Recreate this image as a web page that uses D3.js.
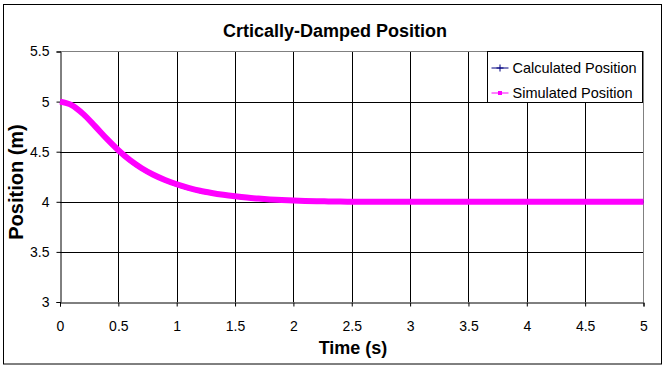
<!DOCTYPE html>
<html>
<head>
<meta charset="utf-8">
<script src="https://cdn.jsdelivr.net/npm/d3@7"></script>
<style>
  body { margin: 0; background: #fff; }
  text { font-family: "Liberation Sans", Arial, sans-serif; }
</style>
</head>
<body>
<div id="chart"></div>
<script>
// values
var times = [0, 0.1, 0.2, 0.3, 0.4, 0.5, 0.6, 0.7, 0.8, 0.9, 1.0,
  1.1, 1.2, 1.3, 1.4, 1.5, 1.6, 1.7, 1.8, 1.9, 2.0,
  2.1, 2.2, 2.3, 2.4, 2.5, 2.6, 2.7, 2.8, 2.9, 3.0,
  3.1, 3.2, 3.3, 3.4, 3.5, 3.6, 3.7, 3.8, 3.9, 4.0,
  4.1, 4.2, 4.3, 4.4, 4.5, 4.6, 4.7, 4.8, 4.9, 5.0]
var calculated = [5.0, 4.962, 4.87, 4.748, 4.622, 4.508, 4.405, 4.325, 4.26, 4.208, 4.165,
  4.13, 4.101, 4.079, 4.062, 4.047, 4.035, 4.026, 4.019, 4.013, 4.009,
  4.006, 4.004, 4.002, 4.001, 4.0, 4.0, 4.0, 4.0, 4.0, 4.0,
  4.0, 4.0, 4.0, 4.0, 4.0, 4.0, 4.0, 4.0, 4.0, 4.0,
  4.0, 4.0, 4.0, 4.0, 4.0, 4.0, 4.0, 4.0, 4.0, 4.0]
var simulated = [5.0, 4.965, 4.875, 4.755, 4.63, 4.515, 4.415, 4.335, 4.27, 4.218, 4.175,
  4.14, 4.11, 4.088, 4.07, 4.055, 4.042, 4.032, 4.024, 4.018, 4.013,
  4.009, 4.006, 4.004, 4.002, 4.001, 4.0, 4.0, 4.0, 4.0, 4.0,
  4.0, 4.0, 4.0, 4.0, 4.0, 4.0, 4.0, 4.0, 4.0, 4.0,
  4.0, 4.0, 4.0, 4.0, 4.0, 4.0, 4.0, 4.0, 4.0, 4.0]
var xTicks = [0, 0.5, 1, 1.5, 2, 2.5, 3, 3.5, 4, 4.5, 5]
var yTicks = [3, 3.5, 4, 4.5, 5, 5.5]
var seriesNames = ['Calculated Position', 'Simulated Position']

var W = 669, H = 369
var plot = {left: 60, right: 643.5, top: 51.5, bottom: 302}

var svg = d3.select('#chart').append('svg')
  .attr('width', W)
  .attr('height', H)

svg.append('rect')
  .attr('x', 3.5).attr('y', 4.5)
  .attr('width', 658).attr('height', 359.5)
  .attr('fill', '#fff').attr('stroke', '#000')

var x = d3.scaleLinear().domain([0, 5]).range([plot.left, plot.right])
var y = d3.scaleLinear().domain([3, 5.5]).range([plot.bottom, plot.top])

// grid
svg.append('g').selectAll('line')
  .data(xTicks.slice(1, -1))
  .enter().append('line')
    .attr('x1', d => Math.round(x(d)) + 0.5).attr('x2', d => Math.round(x(d)) + 0.5)
    .attr('y1', plot.top).attr('y2', plot.bottom)
    .attr('stroke', '#000')
svg.append('g').selectAll('line')
  .data(yTicks.slice(1, -1))
  .enter().append('line')
    .attr('x1', plot.left).attr('x2', plot.right)
    .attr('y1', d => Math.round(y(d)) + 0.5).attr('y2', d => Math.round(y(d)) + 0.5)
    .attr('stroke', '#000')

// gray frame top and right
svg.append('line')
  .attr('x1', plot.left).attr('x2', plot.right + 0.5)
  .attr('y1', plot.top).attr('y2', plot.top)
  .attr('stroke', '#808080')
svg.append('line')
  .attr('x1', plot.right).attr('x2', plot.right)
  .attr('y1', plot.top).attr('y2', plot.bottom)
  .attr('stroke', '#808080')

// axes
var xAxis = d3.axisBottom(x).tickValues(xTicks).tickSize(4).tickFormat(d3.format('')).tickPadding(15)
var yAxis = d3.axisLeft(y).tickValues(yTicks).tickSize(4).tickFormat(d3.format('')).tickPadding(7)

var gx = svg.append('g')
  .attr('transform', 'translate(0,' + (plot.bottom + 0.5) + ')')
  .call(xAxis)
var gy = svg.append('g')
  .attr('transform', 'translate(' + (plot.left + 0.5) + ',0)')
  .call(yAxis)

;[gx, gy].forEach(function(g){
  g.select('.domain').attr('stroke', '#000')
  g.selectAll('.tick line').attr('stroke', '#000')
  g.selectAll('.tick text')
    .attr('fill', '#000')
    .style('font-family', '"Liberation Sans", Arial, sans-serif')
    .style('font-size', '14px')
})

// series
var line = d3.line().curve(d3.curveMonotoneX).x((d, i) => x(times[i])).y(d => y(d))

svg.append('path')
  .attr('d', line(calculated))
  .attr('fill', 'none').attr('stroke', '#000080').attr('stroke-width', 3)

svg.append('path')
  .attr('d', line(simulated))
  .attr('fill', 'none').attr('stroke', '#ff00ff').attr('stroke-width', 6)

// titles
svg.append('text')
  .attr('x', 335).attr('y', 37)
  .attr('text-anchor', 'middle')
  .style('font-size', '18px').style('font-weight', 'bold')
  .text('Crtically-Damped Position')

svg.append('text')
  .attr('x', 353).attr('y', 354)
  .attr('text-anchor', 'middle')
  .style('font-size', '18px').style('font-weight', 'bold')
  .text('Time (s)')

svg.append('text')
  .attr('transform', 'translate(23,182) rotate(-90)')
  .attr('text-anchor', 'middle')
  .style('font-size', '20px').style('font-weight', 'bold')
  .text('Position (m)')

// legend
var legend = svg.append('g').attr('transform', 'translate(487.5,51.5)')
legend.append('rect')
  .attr('width', 155).attr('height', 51)
  .attr('fill', '#fff').attr('stroke', '#000')

var colors = ['#000080', '#ff00ff']
var item = legend.selectAll('.item')
  .data(seriesNames)
  .enter().append('g')
    .attr('transform', (d, i) => 'translate(0,' + (16.5 + i * 25) + ')')

item.append('line')
  .attr('x1', 4).attr('x2', 21)
  .attr('stroke', (d, i) => colors[i]).attr('stroke-width', 1)
item.filter((d, i) => i == 0).append('path')
  .attr('d', 'M12.5,-3.5V3.5M9,0H16')
  .attr('stroke', colors[0])
item.filter((d, i) => i == 1).append('rect')
  .attr('x', 10.5).attr('y', -2).attr('width', 4).attr('height', 4)
  .attr('fill', colors[1])
item.append('text')
  .attr('x', 25).attr('y', 5)
  .style('font-size', '14.5px')
  .text(d => d)
</script>
</body>
</html>
